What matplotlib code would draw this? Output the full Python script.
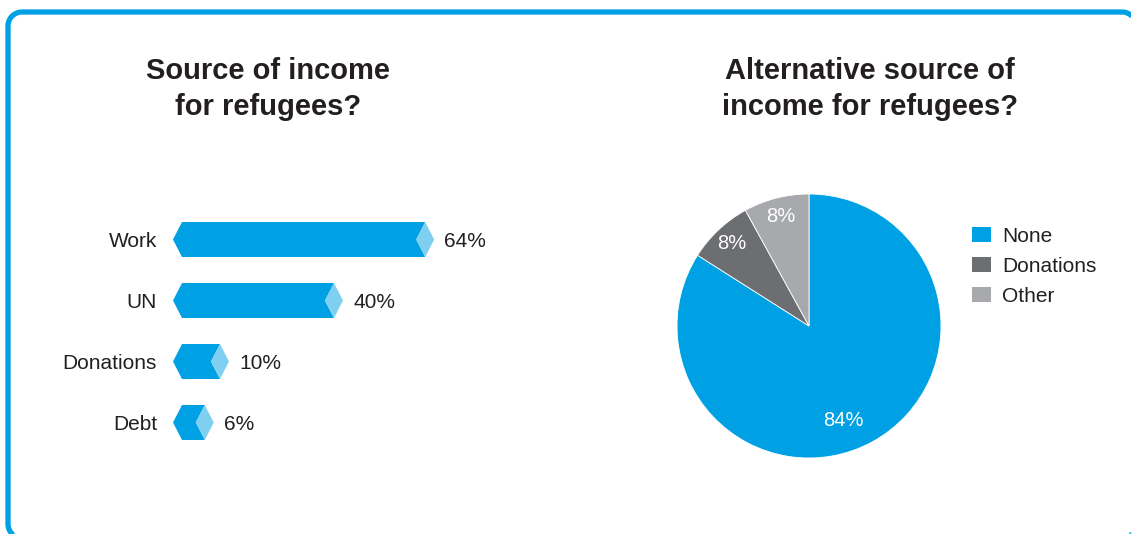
import numpy as np
import matplotlib
matplotlib.use("Agg")
import matplotlib.pyplot as plt
from matplotlib.patches import Polygon, Patch

plt.rcParams['font.family'] = ['Liberation Sans', 'DejaVu Sans']

# Data
bar_categories = ["Work", "UN", "Donations", "Debt"]
bar_values = [64, 40, 10, 6]

pie_labels = ["None", "Donations", "Other"]
pie_values = [84, 8, 8]

left_title = "Source of income\nfor refugees?"
right_title = "Alternative source of\nincome for refugees?"

# Colours
BLUE = "#00a1e4"
LIGHT_BLUE = "#7fcff1"
DARK_GREY = "#6d6e71"
LIGHT_GREY = "#a7a9ac"
TEXT = "#231f20"

W, H = 1131, 534
fig = plt.figure(figsize=(W / 100, H / 100), dpi=100)
fig.patch.set_facecolor("white")


def px_axes(x0, y0, x1, y1):
    """Axes placed by pixel box (top-left origin)."""
    return fig.add_axes([x0 / W, 1 - y1 / H, (x1 - x0) / W, (y1 - y0) / H])


def rounded_rect(x0, y0, x1, y1, r, n=24):
    """Vertices of a rounded rectangle as a plain polyline (y grows downward)."""
    pts = []
    corners = [(x1 - r, y0 + r, -90, 0), (x1 - r, y1 - r, 0, 90),
               (x0 + r, y1 - r, 90, 180), (x0 + r, y0 + r, 180, 270)]
    for cx, cy, a0, a1 in corners:
        t = np.radians(np.linspace(a0, a1, n))
        pts.extend(zip(cx + r * np.cos(t), cy + r * np.sin(t)))
    return pts


# Background layer in pixel units: frame and titles
bg = px_axes(0, 0, W, H)
bg.set_xlim(0, W)
bg.set_ylim(H, 0)
bg.axis("off")
bg.add_patch(Polygon(rounded_rect(8, 12, 1136, 538, 14), closed=True, fill=False,
                     edgecolor=BLUE, linewidth=3.8, joinstyle="round"))
bg.text(268, 57, left_title, ha="center", va="top", fontsize=21,
        fontweight="bold", color=TEXT, linespacing=1.38)
bg.text(870, 57, right_title, ha="center", va="top", fontsize=21,
        fontweight="bold", color=TEXT, linespacing=1.38)

# Bar chart with chevron-shaped bars
PX_PER_UNIT = 3.8
ax = px_axes(160, 200, 500, 460)
ax.set_xlim((160 - 191) / PX_PER_UNIT, (500 - 191) / PX_PER_UNIT)
ax.set_ylim(3.615, -0.648)
ax.axis("off")

d = 9 / PX_PER_UNIT          # depth of the arrow notches
left_tip = -18 / PX_PER_UNIT
h = 0.287                    # half bar height

for i, (cat, v) in enumerate(zip(bar_categories, bar_values)):
    body = [(left_tip, i), (left_tip + d, i - h), (v - d, i - h), (v - 2 * d, i),
            (v - d, i + h), (left_tip + d, i + h)]
    tip = [(v - d, i - h), (v, i), (v - d, i + h), (v - 2 * d, i)]
    ax.add_patch(Polygon(body, closed=True, facecolor=BLUE, edgecolor="none"))
    ax.add_patch(Polygon(tip, closed=True, facecolor=LIGHT_BLUE, edgecolor="none"))
    ax.annotate(f"{v}%", xy=(v, i), xytext=(10, 0), textcoords="offset pixels",
                ha="left", va="center_baseline", fontsize=15, color=TEXT)
    ax.annotate(cat, xy=(left_tip, i), xytext=(-16, 0), textcoords="offset pixels",
                ha="right", va="center_baseline", fontsize=15, color=TEXT)

# Pie chart
pax = px_axes(677, 194, 941, 458)
wedges, texts, autotexts = pax.pie(
    pie_values, colors=[BLUE, DARK_GREY, LIGHT_GREY], startangle=90,
    counterclock=False, radius=1, autopct=lambda p: f"{p:.0f}%",
    pctdistance=0.855, wedgeprops=dict(linewidth=0.6, edgecolor="white"),
    textprops=dict(color="white", fontsize=14.5))
autotexts[0].set_position((34 / 132, -95 / 132))
pax.set_xlim(-1, 1)
pax.set_ylim(-1, 1)
pax.set_aspect("auto")
pax.axis("off")

handles = [Patch(facecolor=c, edgecolor="none") for c in [BLUE, DARK_GREY, LIGHT_GREY]]
fig.legend(handles, pie_labels, loc="upper left",
           bbox_to_anchor=(972 / W, 1 - 227 / H), frameon=False, fontsize=15,
           borderpad=0, borderaxespad=0,
           handlelength=0.92, handleheight=0.72, handletextpad=0.53,
           labelspacing=0.52, labelcolor=TEXT)

fig.savefig("out.png", dpi=100, facecolor="white")
